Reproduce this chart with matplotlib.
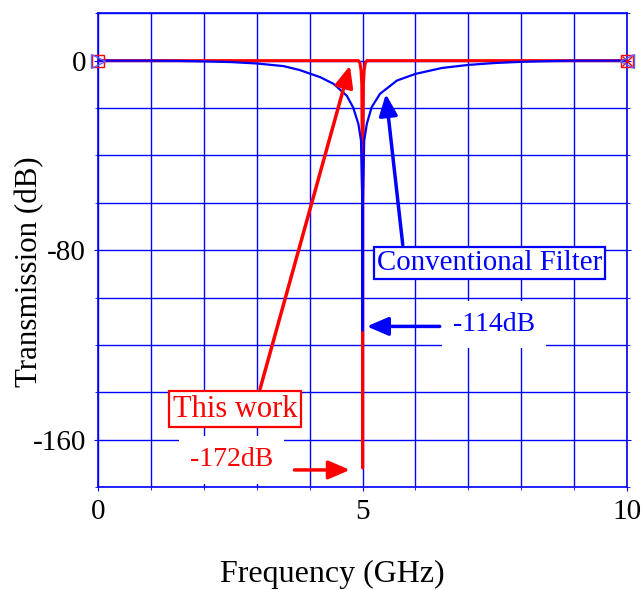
import matplotlib.pyplot as plt
from matplotlib.ticker import MultipleLocator

plt.rcParams['font.family'] = ['Liberation Serif', 'DejaVu Serif']

# courbe du filtre conventionnel
freq_conv = [0, 1.0, 1.5, 2.0, 2.5, 3.0, 3.5, 3.8, 4.2, 4.45, 4.7, 4.82, 4.92, 4.97,
             4.995, 5.0, 5.005, 5.03, 5.08, 5.17, 5.33, 5.65, 6.0, 6.5, 7.0, 7.5,
             8.0, 8.5, 9.0, 10]
db_conv = [0, 0, -0.1, -0.3, -0.6, -1.2, -2.3, -3.9, -7, -9.8, -14.8, -19.7, -26.7, -33.8,
           -60, -114, -60, -33.8, -26.7, -19.7, -14, -8.4, -5.6, -3.1, -1.8, -1.0,
           -0.5, -0.2, 0, 0]

# courbe "This work"
freq_new = [0, 4.92, 4.95, 4.97, 4.985, 4.999, 5.0, 5.001, 5.015, 5.03, 5.05, 5.08, 10]
db_new = [0, 0, -1, -4, -10, -60, -172, -60, -10, -4, -1, 0, 0]

xticks = [0, 5, 10]
yticks = [0, -80, -160]

blue = '#0000ff'
red = '#ff0000'

fig = plt.figure(figsize=(6.42, 5.90), dpi=100)
ax = fig.add_axes([0.1534, 0.1746, 0.8228, 0.8029])

ax.plot(freq_new, db_new, color=red, lw=2.2, zorder=3)
ax.plot(freq_conv, db_conv, color=blue, lw=1.6, zorder=4)

# marqueurs des ports
ax.plot([0], [0], marker='s', ms=8, mfc='none', mec=red, mew=1, clip_on=False, zorder=5)
ax.plot([0], [0], marker='>', ms=10, mfc='none', mec='#6060ff', mew=1, clip_on=False, zorder=5)
ax.plot([10], [0], marker='s', ms=8, mfc='none', mec=red, mew=1, clip_on=False, zorder=5)
ax.plot([10], [0], marker='x', ms=7, mec=red, mew=1, clip_on=False, zorder=5)
ax.plot([10], [0], marker='<', ms=10, mfc='none', mec='#6060ff', mew=1, clip_on=False, zorder=5)

ax.set_xlim(0, 10)
ax.set_ylim(-180, 20)
ax.set_xticks(xticks)
ax.set_xticklabels([str(v) for v in xticks])
ax.set_yticks(yticks)
ax.set_yticklabels([str(v) for v in yticks])
ax.xaxis.set_minor_locator(MultipleLocator(1))
ax.yaxis.set_minor_locator(MultipleLocator(20))
ax.grid(True, which='both', color=blue, lw=1.0)
ax.set_axisbelow(True)
for s in ax.spines.values():
    s.set_color(blue)
    s.set_linewidth(1.2)
ax.tick_params(which='major', length=3, color=blue, labelsize=21, pad=6,
               right=True, labelcolor='black')
ax.tick_params(which='minor', length=2, color=blue, right=True)

ax.set_xlabel('Frequency (GHz)', fontsize=23)
ax.xaxis.set_label_coords(0.442, -0.154)
ax.set_ylabel('Transmission (dB)', fontsize=22.3)
ax.yaxis.set_label_coords(-0.102, 0.455)

# annotations
ax.text(7.41, -85.5, 'Conventional Filter', color=blue, fontsize=20.8, ha='center', va='center',
        bbox=dict(boxstyle='square,pad=0.1', fc='white', ec=blue, lw=1.6), zorder=6)
ax.text(2.58, -147.1, 'This work', color=red, fontsize=22, ha='center', va='center',
        bbox=dict(boxstyle='square,pad=0.12', fc='white', ec=red, lw=1.6), zorder=6)
ax.text(7.49, -111.4, '-114dB', color=blue, fontsize=20, ha='center', va='center',
        bbox=dict(boxstyle='square,pad=0.4', fc='white', ec='none'), zorder=6)
ax.text(2.52, -168.6, '-172dB', color=red, fontsize=20, ha='center', va='center',
        bbox=dict(boxstyle='square,pad=0.4', fc='white', ec='none'), zorder=6)

arrow_kw = dict(arrowstyle='-|>,head_length=0.65,head_width=0.28', lw=2.5,
                shrinkA=0, shrinkB=0, mutation_scale=20)
ax.annotate('', xy=(4.76, -172.8), xytext=(3.71, -172.8),
            arrowprops=dict(color=red, **arrow_kw), zorder=7)
ax.annotate('', xy=(5.08, -112.2), xytext=(6.46, -112.2),
            arrowprops=dict(color=blue, **arrow_kw), zorder=7)
ax.annotate('', xy=(4.76, -2.1), xytext=(3.06, -138.5),
            arrowprops=dict(color=red, **arrow_kw), zorder=7)
ax.annotate('', xy=(5.44, -14.1), xytext=(5.76, -77.7),
            arrowprops=dict(color=blue, **arrow_kw), zorder=7)

fig.savefig('out.png', dpi=100)
